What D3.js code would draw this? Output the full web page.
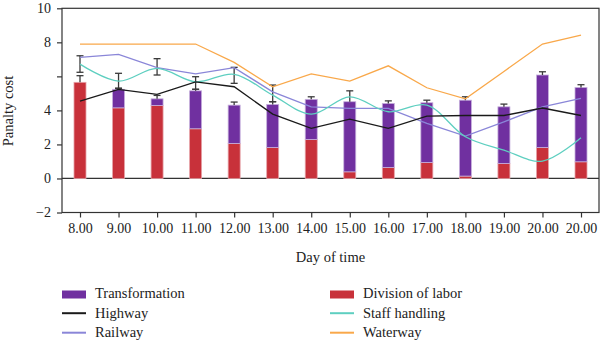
<!DOCTYPE html>
<html>
<head>
<meta charset="utf-8">
<script src="https://cdn.jsdelivr.net/npm/d3@7"></script>
<style>
  body { margin: 0; background: #fff; }
  svg text { font-family: "Liberation Serif", "DejaVu Serif", serif; fill: #222; }
</style>
</head>
<body>
<svg id="chart" width="600" height="343"></svg>
<script>
// categories (x axis), the last label repeats in the source figure
const hours = ["8.00", "9.00", "10.00", "11.00", "12.00", "13.00", "14.00",
  "15.00", "16.00", "17.00", "18.00", "19.00", "20.00", "20.00"];

// stacked bars
const division = [5.65, 4.15, 4.29, 2.92, 2.06, 1.82, 2.29, 0.39, 0.65, 0.94, 0.14, 0.88, 1.82, 0.98];
const transformation = [0, 1.09, 0.39, 2.23, 2.25, 2.53, 2.36, 4.12, 3.76, 3.51, 4.46, 3.33, 4.26, 4.37];
// upper whisker above each bar
const barErrTop = [6.04, 5.3, 4.88, 5.24, 4.49, 4.51, 4.8, 5.15, 4.56, 4.6, 4.8, 4.37, 6.27, 5.51];
// extra two-capped whiskers (null where none)
const errLow = [6.24, 5.3, 6.08, 5.24, 5.59, 4.51, null, null, null, null, null, null, null, null];
const errHigh = [7.21, 6.18, 7.04, 5.98, 6.53, 5.49, null, null, null, null, null, null, null, null];

// lines
const highway = [4.55, 5.24, 4.94, 5.68, 5.39, 3.78, 2.94, 3.49, 2.94, 3.66, 3.7, 3.7, 4.14, 3.7];
const railway = [7.12, 7.29, 6.51, 6.15, 6.51, 5.09, 4.21, 4.12, 4.12, 3.24, 2.49, 3.33, 4.21, 4.7];
const staff = [6.72, 5.72, 6.47, 5.68, 6.12, 4.9, 3.78, 4.8, 3.92, 4.31, 2.45, 1.66, 1.02, 2.39];
const waterway = [7.9, 7.9, 7.9, 7.9, 6.82, 5.39, 6.14, 5.72, 6.62, 5.33, 4.68, 6.29, 7.9, 8.43];

const yTicks = [-2, 0, 2, 4, 6, 8, 10];
const yTickLabels = { "-2": "\u22122", "0": "0", "2": "2", "4": "4", "6": "", "8": "8", "10": "10" };

const colors = {
  transformation: "#7030a0",
  division: "#c8313a",
  highway: "#1a1a1a",
  railway: "#8a86d8",
  staff: "#5ecfc0",
  waterway: "#f9a84a"
};

const svg = d3.select("#chart");
const frame = { left: 62, right: 599, top: 8.3, bottom: 212.5 };

const x = d3.scalePoint()
  .domain(d3.range(hours.length))
  .range([frame.left, frame.right])
  .padding(0.467);

const y = d3.scaleLinear()
  .domain([-2, 10])
  .range([frame.bottom, frame.top]);

const barWidth = 12;

// box round the plot
svg.append("rect")
  .attr("x", frame.left)
  .attr("y", frame.top)
  .attr("width", frame.right - frame.left)
  .attr("height", frame.bottom - frame.top)
  .attr("fill", "none")
  .attr("stroke", "#333")
  .attr("stroke-width", 1.2);

// axes
const yAxis = svg.append("g")
  .attr("transform", `translate(${frame.left},0)`)
  .call(d3.axisLeft(y).tickValues(yTicks).tickSize(5).tickPadding(6)
    .tickFormat(d => yTickLabels[d]));

const xAxis = svg.append("g")
  .attr("transform", `translate(0,${frame.bottom})`)
  .call(d3.axisBottom(x).tickSize(5).tickPadding(6).tickFormat(i => hours[i]));

[xAxis, yAxis].forEach(g => {
  g.select(".domain").remove();
  g.selectAll("line").attr("stroke", "#333").attr("stroke-width", 1.2);
  g.selectAll("text").attr("font-size", 14).attr("font-family", "Liberation Serif").attr("fill", "#222");
});

// zero line
svg.append("line")
  .attr("x1", frame.left).attr("x2", frame.right)
  .attr("y1", y(0)).attr("y2", y(0))
  .attr("stroke", "#333").attr("stroke-width", 1.2);

// stacked bars
const rows = hours.map((h, i) => ({ i: i, division: division[i], transformation: transformation[i] }));
const stack = d3.stack().keys(["division", "transformation"])(rows);

svg.append("g").selectAll("g")
  .data(stack)
  .join("g")
  .attr("fill", d => colors[d.key])
  .attr("stroke", d => d.key == "division" ? "#e6a3a8" : "#c6b0dc")
  .attr("stroke-width", 0.8)
  .selectAll("rect")
  .data(d => d.filter(s => s[1] - s[0] > 0))
  .join("rect")
  .attr("x", d => x(d.data.i) - barWidth / 2)
  .attr("y", d => y(d[1]))
  .attr("width", barWidth)
  .attr("height", d => y(d[0]) - y(d[1]));

// whiskers
const capW = 7;
const errG = svg.append("g").attr("stroke", "#3a3a3a").attr("stroke-width", 1.3);

rows.forEach((r, i) => {
  let cx = x(i);
  let total = division[i] + transformation[i];
  errG.append("line")
    .attr("x1", cx).attr("x2", cx)
    .attr("y1", y(total)).attr("y2", y(barErrTop[i]));
  errG.append("line")
    .attr("x1", cx - capW / 2).attr("x2", cx + capW / 2)
    .attr("y1", y(barErrTop[i])).attr("y2", y(barErrTop[i]));

  if (errLow[i] != null) {
    errG.append("line")
      .attr("x1", cx).attr("x2", cx)
      .attr("y1", y(errLow[i])).attr("y2", y(errHigh[i]));
    [errLow[i], errHigh[i]].forEach(v => {
      errG.append("line")
        .attr("x1", cx - capW / 2).attr("x2", cx + capW / 2)
        .attr("y1", y(v)).attr("y2", y(v));
    });
  }
});

// lines
const series = [
  { key: "waterway", values: waterway, curve: d3.curveLinear },
  { key: "railway", values: railway, curve: d3.curveLinear },
  { key: "staff", values: staff, curve: d3.curveCatmullRom.alpha(0.5) },
  { key: "highway", values: highway, curve: d3.curveLinear }
];

series.forEach(s => {
  let line = d3.line()
    .x((d, i) => x(i))
    .y(d => y(d))
    .curve(s.curve);
  svg.append("path")
    .datum(s.values)
    .attr("fill", "none")
    .attr("stroke", colors[s.key])
    .attr("stroke-width", 1.3)
    .attr("d", line);
});

// axis titles
svg.append("text")
  .attr("transform", "translate(13,111) rotate(-90)")
  .attr("text-anchor", "middle")
  .attr("font-size", 14.5)
  .text("Panalty cost");

svg.append("text")
  .attr("x", (frame.left + frame.right) / 2)
  .attr("y", 262)
  .attr("text-anchor", "middle")
  .attr("font-size", 14.5)
  .text("Day of time");

// legend
const legendItems = [
  { label: "Transformation", key: "transformation", type: "rect", col: 0, row: 0 },
  { label: "Division of labor", key: "division", type: "rect", col: 1, row: 0 },
  { label: "Highway", key: "highway", type: "line", col: 0, row: 1 },
  { label: "Staff handling", key: "staff", type: "line", col: 1, row: 1 },
  { label: "Railway", key: "railway", type: "line", col: 0, row: 2 },
  { label: "Waterway", key: "waterway", type: "line", col: 1, row: 2 }
];

const legend = svg.append("g").selectAll("g")
  .data(legendItems)
  .join("g")
  .attr("transform", d => `translate(${62 + d.col * 268},${298 + d.row * 19.5})`);

legend.filter(d => d.type == "rect").append("rect")
  .attr("x", 0).attr("y", -7.5)
  .attr("width", 24).attr("height", 8)
  .attr("fill", d => colors[d.key]);

legend.filter(d => d.type == "line").append("line")
  .attr("x1", 0).attr("x2", 24)
  .attr("y1", -4.3).attr("y2", -4.3)
  .attr("stroke", d => colors[d.key])
  .attr("stroke-width", 2);

legend.append("text")
  .attr("x", 33)
  .attr("y", 0)
  .attr("font-size", 14.5)
  .text(d => d.label);
</script>
</body>
</html>
